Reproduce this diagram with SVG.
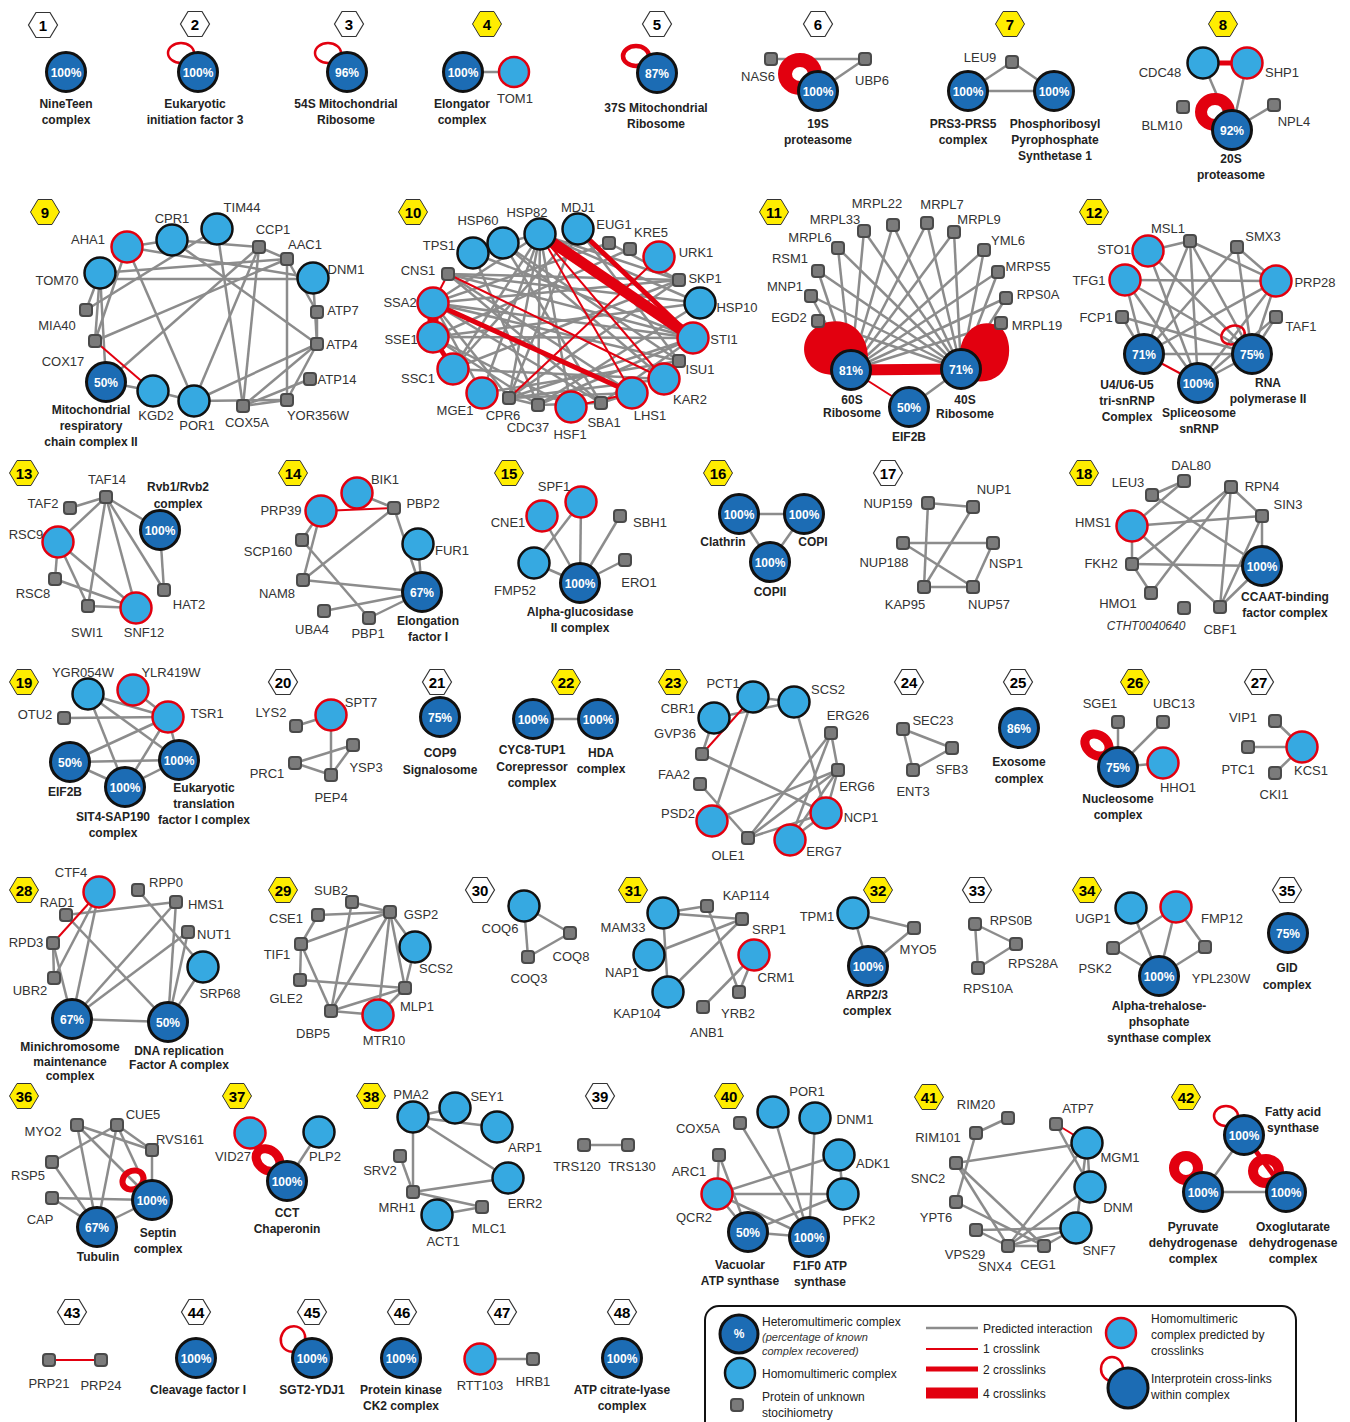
<svg xmlns="http://www.w3.org/2000/svg" xmlns:xlink="http://www.w3.org/1999/xlink" width="1350" height="1422" viewBox="0 0 1350 1422">
<style>
text{font-family:"Liberation Sans",Arial,sans-serif}
.t{font-size:13px;fill:#333;text-anchor:middle}
.ti{font-size:12px;fill:#333;text-anchor:middle;font-style:italic}
.b{font-size:12px;font-weight:bold;fill:#222;text-anchor:middle}
.p{font-size:12px;font-weight:bold;fill:#fff;text-anchor:middle}
.hn{font-size:15px;font-weight:bold;fill:#000;text-anchor:middle}
.lg{font-size:12px;fill:#222}
.lgi{font-size:11px;fill:#333;font-style:italic}
.ge{stroke:#8c8c8c;stroke-width:2.5;fill:none}
.r1{stroke:#e2000f;stroke-width:2;fill:none}
.r2{stroke:#e2000f;stroke-width:5;fill:none}
.r4{stroke:#e2000f;stroke-width:11;fill:none}
.lp{stroke:#e2000f;stroke-width:2.5;fill:none}
.rg{stroke:#e2000f;fill:none}
.bl{fill:#e2000f}
.H{fill:#1c6cb4;stroke:#111;stroke-width:3}
.L{fill:#36a9e1;stroke:#111;stroke-width:2.5}
.R{fill:#36a9e1;stroke:#e2000f;stroke-width:2.5}
.S{fill:#7b7b7b;stroke:#4a4a4a;stroke-width:2}
.hy{fill:#ffed00;stroke:#333;stroke-width:1}
.hw{fill:#fff;stroke:#333;stroke-width:1.2}
</style>
<defs>
<polygon id="hex" points="-14.5,0 -7,-12.5 7,-12.5 14.5,0 7,12.5 -7,12.5"/>
<rect id="sq" x="-6" y="-6" width="12" height="12" rx="3"/>
</defs>

<g id="badges">
<g id="b1"><use href="#hex" x="43" y="25" class="hw"/><text class="hn" x="43" y="30.5">1</text></g>
<g id="b2"><use href="#hex" x="195" y="24" class="hw"/><text class="hn" x="195" y="29.5">2</text></g>
<g id="b3"><use href="#hex" x="349" y="24" class="hw"/><text class="hn" x="349" y="29.5">3</text></g>
<g id="b4"><use href="#hex" x="487" y="24" class="hy"/><text class="hn" x="487" y="29.5">4</text></g>
<g id="b5"><use href="#hex" x="657" y="24" class="hw"/><text class="hn" x="657" y="29.5">5</text></g>
<g id="b6"><use href="#hex" x="818" y="24" class="hw"/><text class="hn" x="818" y="29.5">6</text></g>
<g id="b7"><use href="#hex" x="1010" y="24" class="hy"/><text class="hn" x="1010" y="29.5">7</text></g>
<g id="b8"><use href="#hex" x="1223" y="24" class="hy"/><text class="hn" x="1223" y="29.5">8</text></g>
<g id="b9"><use href="#hex" x="45" y="212" class="hy"/><text class="hn" x="45" y="217.5">9</text></g>
<g id="b10"><use href="#hex" x="413" y="212" class="hy"/><text class="hn" x="413" y="217.5">10</text></g>
<g id="b11"><use href="#hex" x="774" y="212" class="hy"/><text class="hn" x="774" y="217.5">11</text></g>
<g id="b12"><use href="#hex" x="1094" y="212" class="hy"/><text class="hn" x="1094" y="217.5">12</text></g>
<g id="b13"><use href="#hex" x="24" y="473" class="hy"/><text class="hn" x="24" y="478.5">13</text></g>
<g id="b14"><use href="#hex" x="293" y="473" class="hy"/><text class="hn" x="293" y="478.5">14</text></g>
<g id="b15"><use href="#hex" x="509" y="473" class="hy"/><text class="hn" x="509" y="478.5">15</text></g>
<g id="b16"><use href="#hex" x="718" y="473" class="hy"/><text class="hn" x="718" y="478.5">16</text></g>
<g id="b17"><use href="#hex" x="888" y="473" class="hw"/><text class="hn" x="888" y="478.5">17</text></g>
<g id="b18"><use href="#hex" x="1084" y="473" class="hy"/><text class="hn" x="1084" y="478.5">18</text></g>
<g id="b19"><use href="#hex" x="24" y="682" class="hy"/><text class="hn" x="24" y="687.5">19</text></g>
<g id="b20"><use href="#hex" x="283" y="682" class="hw"/><text class="hn" x="283" y="687.5">20</text></g>
<g id="b21"><use href="#hex" x="437" y="682" class="hw"/><text class="hn" x="437" y="687.5">21</text></g>
<g id="b22"><use href="#hex" x="566" y="682" class="hy"/><text class="hn" x="566" y="687.5">22</text></g>
<g id="b23"><use href="#hex" x="673" y="682" class="hy"/><text class="hn" x="673" y="687.5">23</text></g>
<g id="b24"><use href="#hex" x="909" y="682" class="hw"/><text class="hn" x="909" y="687.5">24</text></g>
<g id="b25"><use href="#hex" x="1018" y="682" class="hw"/><text class="hn" x="1018" y="687.5">25</text></g>
<g id="b26"><use href="#hex" x="1135" y="682" class="hy"/><text class="hn" x="1135" y="687.5">26</text></g>
<g id="b27"><use href="#hex" x="1259" y="682" class="hw"/><text class="hn" x="1259" y="687.5">27</text></g>
<g id="b28"><use href="#hex" x="24" y="890" class="hy"/><text class="hn" x="24" y="895.5">28</text></g>
<g id="b29"><use href="#hex" x="283" y="890" class="hy"/><text class="hn" x="283" y="895.5">29</text></g>
<g id="b30"><use href="#hex" x="480" y="890" class="hw"/><text class="hn" x="480" y="895.5">30</text></g>
<g id="b31"><use href="#hex" x="633" y="890" class="hy"/><text class="hn" x="633" y="895.5">31</text></g>
<g id="b32"><use href="#hex" x="878" y="890" class="hy"/><text class="hn" x="878" y="895.5">32</text></g>
<g id="b33"><use href="#hex" x="977" y="890" class="hw"/><text class="hn" x="977" y="895.5">33</text></g>
<g id="b34"><use href="#hex" x="1087" y="890" class="hy"/><text class="hn" x="1087" y="895.5">34</text></g>
<g id="b35"><use href="#hex" x="1287" y="890" class="hw"/><text class="hn" x="1287" y="895.5">35</text></g>
<g id="b36"><use href="#hex" x="24" y="1096" class="hy"/><text class="hn" x="24" y="1101.5">36</text></g>
<g id="b37"><use href="#hex" x="237" y="1096" class="hy"/><text class="hn" x="237" y="1101.5">37</text></g>
<g id="b38"><use href="#hex" x="371" y="1096" class="hy"/><text class="hn" x="371" y="1101.5">38</text></g>
<g id="b39"><use href="#hex" x="600" y="1096" class="hw"/><text class="hn" x="600" y="1101.5">39</text></g>
<g id="b40"><use href="#hex" x="729" y="1096" class="hy"/><text class="hn" x="729" y="1101.5">40</text></g>
<g id="b41"><use href="#hex" x="929" y="1097" class="hy"/><text class="hn" x="929" y="1102.5">41</text></g>
<g id="b42"><use href="#hex" x="1186" y="1097" class="hy"/><text class="hn" x="1186" y="1102.5">42</text></g>
<g id="b43"><use href="#hex" x="72" y="1312" class="hw"/><text class="hn" x="72" y="1317.5">43</text></g>
<g id="b44"><use href="#hex" x="196" y="1312" class="hw"/><text class="hn" x="196" y="1317.5">44</text></g>
<g id="b45"><use href="#hex" x="312" y="1312" class="hw"/><text class="hn" x="312" y="1317.5">45</text></g>
<g id="b46"><use href="#hex" x="402" y="1312" class="hw"/><text class="hn" x="402" y="1317.5">46</text></g>
<g id="b47"><use href="#hex" x="502" y="1312" class="hw"/><text class="hn" x="502" y="1317.5">47</text></g>
<g id="b48"><use href="#hex" x="622" y="1312" class="hw"/><text class="hn" x="622" y="1317.5">48</text></g>
</g>

<g id="connectors">
<g class="ge">
<line x1="463" y1="72" x2="514" y2="72"/>
<line x1="771" y1="59" x2="865" y2="59"/><line x1="865" y1="59" x2="818" y2="91"/>
<line x1="1012" y1="62" x2="968" y2="91"/><line x1="1012" y1="62" x2="1054" y2="91"/><line x1="968" y1="91" x2="1054" y2="91"/>
<line x1="1203" y1="63" x2="1232" y2="130"/><line x1="1247" y1="63" x2="1232" y2="130"/><line x1="1274" y1="105" x2="1232" y2="130"/>
<!-- 9 -->
<line x1="172" y1="240" x2="259" y2="247"/><line x1="127" y1="247" x2="172" y2="240"/><line x1="100" y1="279" x2="313" y2="279"/><line x1="100" y1="273" x2="287" y2="259"/><line x1="127" y1="247" x2="313" y2="278"/><line x1="172" y1="240" x2="317" y2="344"/><line x1="127" y1="247" x2="194" y2="401"/><line x1="127" y1="247" x2="95" y2="341"/><line x1="100" y1="273" x2="95" y2="341"/><line x1="100" y1="273" x2="86" y2="310"/><line x1="100" y1="273" x2="106" y2="382"/><line x1="217" y1="229" x2="86" y2="310"/><line x1="217" y1="229" x2="243" y2="406"/><line x1="259" y1="247" x2="194" y2="401"/><line x1="259" y1="247" x2="243" y2="406"/><line x1="259" y1="247" x2="287" y2="259"/><line x1="287" y1="259" x2="287" y2="400"/><line x1="287" y1="259" x2="95" y2="341"/><line x1="106" y1="382" x2="259" y2="247"/><line x1="313" y1="278" x2="317" y2="344"/><line x1="287" y1="259" x2="317" y2="312"/><line x1="317" y1="312" x2="317" y2="344"/><line x1="317" y1="344" x2="243" y2="406"/><line x1="317" y1="344" x2="194" y2="401"/><line x1="317" y1="344" x2="287" y2="400"/><line x1="310" y1="379" x2="243" y2="406"/><line x1="287" y1="400" x2="243" y2="406"/><line x1="287" y1="400" x2="194" y2="401"/><line x1="153" y1="391" x2="194" y2="401"/><line x1="106" y1="382" x2="153" y2="391"/>
<!-- 10 -->
<line x1="448" y1="274" x2="679" y2="280"/><line x1="448" y1="274" x2="700" y2="303"/><line x1="448" y1="274" x2="693" y2="338"/><line x1="473" y1="253" x2="538" y2="405"/><line x1="473" y1="253" x2="693" y2="338"/><line x1="503" y1="243" x2="601" y2="403"/><line x1="503" y1="243" x2="679" y2="361"/><line x1="540" y1="234" x2="679" y2="280"/><line x1="540" y1="234" x2="700" y2="303"/><line x1="540" y1="234" x2="509" y2="398"/><line x1="540" y1="234" x2="538" y2="405"/><line x1="540" y1="234" x2="482" y2="393"/><line x1="540" y1="234" x2="453" y2="369"/><line x1="540" y1="234" x2="433" y2="303"/><line x1="540" y1="234" x2="571" y2="407"/><line x1="578" y1="229" x2="453" y2="369"/><line x1="578" y1="229" x2="509" y2="398"/><line x1="609" y1="243" x2="433" y2="303"/><line x1="630" y1="249" x2="433" y2="337"/><line x1="679" y1="280" x2="433" y2="303"/><line x1="679" y1="280" x2="509" y2="398"/><line x1="700" y1="303" x2="433" y2="337"/><line x1="700" y1="303" x2="538" y2="405"/><line x1="693" y1="338" x2="433" y2="303"/><line x1="693" y1="338" x2="433" y2="337"/><line x1="693" y1="338" x2="509" y2="398"/><line x1="693" y1="338" x2="538" y2="405"/><line x1="693" y1="338" x2="601" y2="403"/><line x1="679" y1="361" x2="433" y2="303"/><line x1="679" y1="361" x2="482" y2="393"/><line x1="664" y1="379" x2="453" y2="369"/><line x1="664" y1="379" x2="509" y2="398"/><line x1="632" y1="393" x2="448" y2="274"/><line x1="632" y1="393" x2="509" y2="398"/><line x1="601" y1="403" x2="433" y2="303"/><line x1="601" y1="403" x2="538" y2="405"/><line x1="571" y1="407" x2="433" y2="337"/><line x1="538" y1="405" x2="433" y2="337"/><line x1="509" y1="398" x2="433" y2="303"/><line x1="482" y1="393" x2="433" y2="303"/><line x1="453" y1="369" x2="679" y2="280"/><line x1="473" y1="253" x2="503" y2="243"/><line x1="503" y1="243" x2="540" y2="234"/><line x1="538" y1="405" x2="509" y2="398"/><line x1="601" y1="403" x2="632" y2="393"/><line x1="609" y1="243" x2="679" y2="280"/><line x1="578" y1="229" x2="679" y2="361"/><line x1="503" y1="243" x2="664" y2="379"/><line x1="448" y1="274" x2="601" y2="403"/>
<!-- 11 -->
<line x1="838" y1="248" x2="851" y2="370"/><line x1="838" y1="248" x2="961" y2="369"/><line x1="864" y1="231" x2="851" y2="370"/><line x1="864" y1="231" x2="961" y2="369"/><line x1="893" y1="225" x2="851" y2="370"/><line x1="893" y1="225" x2="961" y2="369"/><line x1="927" y1="223" x2="851" y2="370"/><line x1="927" y1="223" x2="961" y2="369"/><line x1="954" y1="232" x2="851" y2="370"/><line x1="954" y1="232" x2="961" y2="369"/><line x1="984" y1="250" x2="851" y2="370"/><line x1="984" y1="250" x2="961" y2="369"/><line x1="998" y1="272" x2="851" y2="370"/><line x1="998" y1="272" x2="961" y2="369"/><line x1="1006" y1="298" x2="851" y2="370"/><line x1="1006" y1="298" x2="961" y2="369"/><line x1="1001" y1="323" x2="851" y2="370"/><line x1="1001" y1="323" x2="961" y2="369"/><line x1="818" y1="271" x2="851" y2="370"/><line x1="818" y1="271" x2="961" y2="369"/><line x1="811" y1="296" x2="851" y2="370"/><line x1="811" y1="296" x2="961" y2="369"/><line x1="818" y1="321" x2="851" y2="370"/><line x1="818" y1="321" x2="961" y2="369"/><line x1="961" y1="369" x2="909" y2="407"/>
<!-- 12 -->
<line x1="1148" y1="251" x2="1190" y2="241"/><line x1="1190" y1="241" x2="1144" y2="354"/><line x1="1190" y1="241" x2="1198" y2="383"/><line x1="1190" y1="241" x2="1252" y2="354"/><line x1="1190" y1="241" x2="1276" y2="281"/><line x1="1237" y1="247" x2="1276" y2="281"/><line x1="1237" y1="247" x2="1144" y2="354"/><line x1="1237" y1="247" x2="1252" y2="354"/><line x1="1148" y1="251" x2="1198" y2="383"/><line x1="1148" y1="251" x2="1252" y2="354"/><line x1="1125" y1="280" x2="1276" y2="281"/><line x1="1125" y1="280" x2="1144" y2="354"/><line x1="1125" y1="280" x2="1252" y2="354"/><line x1="1125" y1="280" x2="1198" y2="383"/><line x1="1122" y1="317" x2="1252" y2="354"/><line x1="1122" y1="317" x2="1144" y2="354"/><line x1="1276" y1="281" x2="1144" y2="354"/><line x1="1276" y1="281" x2="1198" y2="383"/><line x1="1276" y1="281" x2="1252" y2="354"/><line x1="1276" y1="317" x2="1252" y2="354"/><line x1="1276" y1="317" x2="1198" y2="383"/><line x1="1144" y1="354" x2="1252" y2="354"/><line x1="1198" y1="383" x2="1252" y2="354"/>
<!-- 13 -->
<line x1="106" y1="497" x2="70" y2="508"/><line x1="106" y1="497" x2="58" y2="542"/><line x1="106" y1="497" x2="88" y2="606"/><line x1="106" y1="497" x2="136" y2="608"/><line x1="106" y1="497" x2="164" y2="590"/><line x1="106" y1="497" x2="160" y2="530"/><line x1="160" y1="530" x2="164" y2="590"/><line x1="58" y1="542" x2="55" y2="579"/><line x1="58" y1="542" x2="88" y2="606"/><line x1="58" y1="542" x2="136" y2="608"/><line x1="55" y1="579" x2="136" y2="608"/><line x1="88" y1="606" x2="136" y2="608"/>
<!-- 14 -->
<line x1="357" y1="493" x2="394" y2="508"/><line x1="394" y1="508" x2="422" y2="592"/><line x1="394" y1="508" x2="303" y2="580"/><line x1="418" y1="544" x2="422" y2="592"/><line x1="321" y1="511" x2="302" y2="540"/><line x1="321" y1="511" x2="303" y2="580"/><line x1="302" y1="540" x2="369" y2="618"/><line x1="303" y1="580" x2="422" y2="592"/><line x1="324" y1="611" x2="422" y2="592"/><line x1="369" y1="618" x2="422" y2="592"/>
<!-- 15 -->
<line x1="542" y1="516" x2="580" y2="583"/><line x1="581" y1="502" x2="580" y2="583"/><line x1="581" y1="502" x2="534" y2="563"/><line x1="534" y1="563" x2="580" y2="583"/><line x1="620" y1="516" x2="580" y2="583"/><line x1="625" y1="560" x2="580" y2="583"/>
<!-- 16 -->
<line x1="739" y1="514" x2="804" y2="514"/><line x1="739" y1="514" x2="770" y2="562"/><line x1="804" y1="514" x2="770" y2="562"/>
<!-- 17 -->
<line x1="928" y1="503" x2="973" y2="507"/><line x1="928" y1="503" x2="924" y2="587"/><line x1="973" y1="507" x2="924" y2="587"/><line x1="903" y1="543" x2="993" y2="543"/><line x1="903" y1="543" x2="973" y2="587"/><line x1="993" y1="543" x2="973" y2="587"/><line x1="924" y1="587" x2="973" y2="587"/>
<!-- 18 -->
<line x1="1152" y1="495" x2="1184" y2="481"/><line x1="1132" y1="526" x2="1184" y2="481"/><line x1="1152" y1="495" x2="1262" y2="566"/><line x1="1132" y1="526" x2="1262" y2="516"/><line x1="1132" y1="526" x2="1220" y2="607"/><line x1="1132" y1="526" x2="1132" y2="564"/><line x1="1132" y1="564" x2="1231" y2="487"/><line x1="1132" y1="564" x2="1262" y2="566"/><line x1="1132" y1="564" x2="1151" y2="593"/><line x1="1151" y1="593" x2="1231" y2="487"/><line x1="1231" y1="487" x2="1262" y2="516"/><line x1="1231" y1="487" x2="1220" y2="607"/><line x1="1262" y1="516" x2="1262" y2="566"/><line x1="1262" y1="516" x2="1220" y2="607"/><line x1="1262" y1="566" x2="1220" y2="607"/>
<!-- 19 -->
<line x1="64" y1="718" x2="168" y2="717"/><line x1="88" y1="694" x2="168" y2="717"/><line x1="133" y1="690" x2="168" y2="717"/><line x1="88" y1="694" x2="125" y2="787"/><line x1="88" y1="694" x2="179" y2="760"/><line x1="168" y1="717" x2="70" y2="762"/><line x1="168" y1="717" x2="125" y2="787"/><line x1="168" y1="717" x2="179" y2="760"/><line x1="70" y1="762" x2="179" y2="760"/><line x1="70" y1="762" x2="125" y2="787"/><line x1="125" y1="787" x2="179" y2="760"/>
<!-- 20 -->
<line x1="296" y1="726" x2="331" y2="715"/><line x1="331" y1="715" x2="331" y2="775"/><line x1="295" y1="763" x2="353" y2="745"/><line x1="295" y1="763" x2="331" y2="775"/><line x1="353" y1="745" x2="331" y2="775"/>
<line x1="533" y1="719" x2="598" y2="719"/>
<!-- 23 -->
<line x1="753" y1="697" x2="794" y2="702"/><line x1="714" y1="718" x2="794" y2="702"/><line x1="714" y1="718" x2="702" y2="754"/><line x1="753" y1="697" x2="712" y2="821"/><line x1="794" y1="702" x2="826" y2="813"/><line x1="702" y1="754" x2="826" y2="813"/><line x1="831" y1="733" x2="838" y2="770"/><line x1="831" y1="733" x2="748" y2="838"/><line x1="831" y1="733" x2="790" y2="840"/><line x1="838" y1="770" x2="712" y2="821"/><line x1="838" y1="770" x2="748" y2="838"/><line x1="838" y1="770" x2="790" y2="840"/><line x1="838" y1="770" x2="826" y2="813"/><line x1="700" y1="784" x2="748" y2="838"/><line x1="748" y1="838" x2="826" y2="813"/><line x1="790" y1="840" x2="826" y2="813"/>
<!-- 24 -->
<line x1="903" y1="729" x2="952" y2="748"/><line x1="903" y1="729" x2="913" y2="770"/><line x1="913" y1="770" x2="952" y2="748"/>
<!-- 26,27 -->
<line x1="1118" y1="722" x2="1118" y2="767"/><line x1="1163" y1="722" x2="1118" y2="767"/><line x1="1163" y1="763" x2="1118" y2="767"/>
<line x1="1275" y1="721" x2="1302" y2="747"/><line x1="1248" y1="747" x2="1302" y2="747"/><line x1="1275" y1="773" x2="1302" y2="747"/>
<!-- 28 -->
<line x1="99" y1="892" x2="72" y2="1019"/><line x1="99" y1="892" x2="54" y2="978"/><line x1="66" y1="915" x2="176" y2="902"/><line x1="66" y1="915" x2="168" y2="1022"/><line x1="138" y1="890" x2="203" y2="967"/><line x1="53" y1="943" x2="54" y2="978"/><line x1="53" y1="943" x2="72" y2="1019"/><line x1="72" y1="1019" x2="176" y2="902"/><line x1="72" y1="1019" x2="188" y2="932"/><line x1="72" y1="1019" x2="168" y2="1022"/><line x1="168" y1="1022" x2="176" y2="902"/><line x1="168" y1="1022" x2="188" y2="932"/><line x1="168" y1="1022" x2="203" y2="967"/>
<!-- 29 -->
<line x1="352" y1="902" x2="390" y2="912"/><line x1="318" y1="915" x2="390" y2="912"/><line x1="318" y1="915" x2="301" y2="944"/><line x1="301" y1="944" x2="390" y2="912"/><line x1="301" y1="944" x2="300" y2="980"/><line x1="301" y1="944" x2="331" y2="1011"/><line x1="352" y1="902" x2="331" y2="1011"/><line x1="390" y1="912" x2="415" y2="947"/><line x1="390" y1="912" x2="331" y2="1011"/><line x1="390" y1="912" x2="378" y2="1015"/><line x1="390" y1="912" x2="405" y2="988"/><line x1="300" y1="980" x2="405" y2="988"/><line x1="415" y1="947" x2="405" y2="988"/><line x1="405" y1="988" x2="331" y2="1011"/><line x1="405" y1="988" x2="378" y2="1015"/><line x1="331" y1="1011" x2="378" y2="1015"/>
<!-- 30,31,32,33,34 -->
<line x1="524" y1="906" x2="570" y2="933"/><line x1="524" y1="906" x2="528" y2="957"/><line x1="528" y1="957" x2="570" y2="933"/>
<line x1="663" y1="913" x2="707" y2="906"/><line x1="663" y1="913" x2="742" y2="919"/><line x1="663" y1="913" x2="668" y2="992"/><line x1="649" y1="955" x2="742" y2="919"/><line x1="668" y1="992" x2="742" y2="919"/><line x1="707" y1="906" x2="739" y2="992"/><line x1="754" y1="955" x2="739" y2="992"/><line x1="754" y1="955" x2="703" y2="1007"/>
<line x1="853" y1="913" x2="868" y2="966"/><line x1="853" y1="913" x2="914" y2="928"/><line x1="868" y1="966" x2="914" y2="928"/>
<line x1="975" y1="924" x2="1016" y2="944"/><line x1="975" y1="924" x2="978" y2="968"/><line x1="978" y1="968" x2="1016" y2="944"/>
<line x1="1131" y1="908" x2="1159" y2="976"/><line x1="1176" y1="907" x2="1113" y2="948"/><line x1="1176" y1="907" x2="1159" y2="976"/><line x1="1176" y1="907" x2="1205" y2="947"/><line x1="1113" y1="948" x2="1159" y2="976"/><line x1="1205" y1="947" x2="1159" y2="976"/>
<!-- 36 -->
<line x1="77" y1="1125" x2="152" y2="1150"/><line x1="77" y1="1125" x2="97" y2="1227"/><line x1="77" y1="1125" x2="152" y2="1200"/><line x1="117" y1="1125" x2="52" y2="1162"/><line x1="117" y1="1125" x2="97" y2="1227"/><line x1="117" y1="1125" x2="152" y2="1150"/><line x1="117" y1="1125" x2="152" y2="1200"/><line x1="152" y1="1150" x2="152" y2="1200"/><line x1="52" y1="1162" x2="97" y2="1227"/><line x1="52" y1="1198" x2="152" y2="1200"/><line x1="52" y1="1198" x2="97" y2="1227"/><line x1="97" y1="1227" x2="152" y2="1200"/>
<line x1="319" y1="1132" x2="287" y2="1181"/>
<!-- 38 -->
<line x1="413" y1="1117" x2="455" y2="1108"/><line x1="413" y1="1117" x2="497" y2="1127"/><line x1="413" y1="1117" x2="413" y2="1192"/><line x1="413" y1="1117" x2="508" y2="1178"/><line x1="400" y1="1156" x2="413" y2="1192"/><line x1="413" y1="1192" x2="508" y2="1178"/><line x1="413" y1="1192" x2="482" y2="1207"/><line x1="437" y1="1215" x2="482" y2="1207"/>
<line x1="584" y1="1145" x2="628" y2="1145"/>
<!-- 40 -->
<line x1="740" y1="1123" x2="809" y2="1237"/><line x1="773" y1="1112" x2="809" y2="1237"/><line x1="815" y1="1118" x2="809" y2="1237"/><line x1="719" y1="1155" x2="717" y2="1194"/><line x1="719" y1="1155" x2="748" y2="1232"/><line x1="839" y1="1155" x2="717" y2="1194"/><line x1="717" y1="1194" x2="843" y2="1194"/><line x1="717" y1="1194" x2="809" y2="1237"/><line x1="717" y1="1194" x2="748" y2="1232"/><line x1="843" y1="1194" x2="748" y2="1232"/><line x1="748" y1="1232" x2="809" y2="1237"/><line x1="839" y1="1155" x2="843" y2="1194"/>
<!-- 41 -->
<line x1="1056" y1="1124" x2="1090" y2="1187"/><line x1="1008" y1="1118" x2="976" y2="1133"/><line x1="976" y1="1133" x2="956" y2="1202"/><line x1="956" y1="1163" x2="1087" y2="1143"/><line x1="956" y1="1163" x2="1008" y2="1246"/><line x1="956" y1="1163" x2="1044" y2="1246"/><line x1="956" y1="1202" x2="1044" y2="1246"/><line x1="1087" y1="1143" x2="1090" y2="1187"/><line x1="1087" y1="1143" x2="1076" y2="1228"/><line x1="1087" y1="1143" x2="1008" y2="1246"/><line x1="1090" y1="1187" x2="1008" y2="1246"/><line x1="1076" y1="1228" x2="976" y2="1230"/><line x1="1076" y1="1228" x2="1008" y2="1246"/><line x1="976" y1="1230" x2="1008" y2="1246"/><line x1="1008" y1="1246" x2="1044" y2="1246"/><line x1="1044" y1="1246" x2="1076" y2="1228"/>
<!-- 42 -->
<line x1="1244" y1="1135" x2="1203" y2="1192"/><line x1="1203" y1="1192" x2="1286" y2="1192"/>
<line x1="480" y1="1359" x2="533" y2="1359"/>
</g>
<g class="r1">
<line x1="95" y1="341" x2="153" y2="391"/>
<line x1="540" y1="234" x2="632" y2="393"/><line x1="540" y1="234" x2="664" y2="379"/><line x1="659" y1="257" x2="509" y2="398"/><line x1="448" y1="274" x2="664" y2="379"/><line x1="448" y1="274" x2="433" y2="303"/><line x1="571" y1="407" x2="632" y2="393"/>
<line x1="851" y1="370" x2="909" y2="407"/>
<line x1="1144" y1="354" x2="1198" y2="383"/>
<line x1="321" y1="511" x2="394" y2="508"/>
<line x1="753" y1="697" x2="702" y2="754"/>
<line x1="99" y1="892" x2="53" y2="943"/>
<line x1="1056" y1="1124" x2="1087" y2="1143"/>
<line x1="49" y1="1360" x2="101" y2="1360"/>
</g>
<g class="r2">
<line x1="1203" y1="63" x2="1247" y2="63"/>
<line x1="578" y1="229" x2="693" y2="338"/><line x1="433" y1="303" x2="632" y2="393"/><line x1="433" y1="337" x2="453" y2="369"/>
<line x1="1244" y1="1135" x2="1286" y2="1192"/>
</g>
<g class="r4">
<line x1="540" y1="234" x2="693" y2="338"/><line x1="433" y1="303" x2="433" y2="337"/>
<line x1="851" y1="370" x2="961" y2="369"/>
</g>
<g id="selfloops">
<ellipse class="lp" cx="181" cy="53" rx="13" ry="10"/>
<ellipse class="lp" cx="328" cy="53" rx="13" ry="10"/>
<ellipse class="rg" stroke-width="4.5" cx="636" cy="56" rx="13" ry="10"/>
<ellipse class="rg" stroke-width="14" cx="800" cy="74" rx="15" ry="14"/>
<ellipse class="rg" stroke-width="12" cx="1215" cy="112" rx="14" ry="13"/>
<path class="bl" d="M851,372 C800,388 788,332 828,322 C858,316 874,345 866,372 Z"/>
<path class="bl" d="M961,372 C952,332 982,314 1001,328 C1016,342 1012,386 975,381 Z"/>
<ellipse class="lp" stroke-width="3" cx="1233" cy="335" rx="12" ry="9" transform="rotate(-20 1233 335)"/>
<ellipse class="rg" stroke-width="9" cx="1097" cy="745" rx="13" ry="10" transform="rotate(35 1097 745)"/>
<ellipse class="rg" stroke-width="6" cx="133" cy="1180" rx="11" ry="9" transform="rotate(-30 133 1180)"/>
<ellipse class="rg" stroke-width="9" cx="268" cy="1160" rx="13" ry="10" transform="rotate(40 268 1160)"/>
<ellipse class="lp" stroke-width="3" cx="1226" cy="1116" rx="12" ry="10"/>
<ellipse class="rg" stroke-width="10" cx="1186" cy="1168" rx="12" ry="12"/>
<ellipse class="rg" stroke-width="10" cx="1266" cy="1171" rx="13" ry="12"/>
<ellipse class="lp" cx="293" cy="1339" rx="12" ry="13" transform="rotate(30 293 1339)"/>
</g>
</g>

<g id="nodes">
<!-- 1-8 -->
<g id="c1"><circle class="H" cx="66" cy="72" r="19.5"/><text class="p" x="66" y="76.5">100%</text><text class="b" x="66" y="108">NineTeen</text><text class="b" x="66" y="124">complex</text></g>
<g id="c2"><circle class="H" cx="198" cy="72" r="19.5"/><text class="p" x="198" y="76.5">100%</text><text class="b" x="195" y="108">Eukaryotic</text><text class="b" x="195" y="124">initiation factor 3</text></g>
<g id="c3"><circle class="H" cx="347" cy="72" r="19.5"/><text class="p" x="347" y="76.5">96%</text><text class="b" x="346" y="108">54S Mitochondrial</text><text class="b" x="346" y="124">Ribosome</text></g>
<g id="c4"><circle class="H" cx="463" cy="72" r="19.5"/><text class="p" x="463" y="76.5">100%</text><text class="b" x="462" y="108">Elongator</text><text class="b" x="462" y="124">complex</text></g>
<g id="n-TOM1"><circle class="R" cx="514" cy="72" r="15"/><text class="t" x="515" y="103">TOM1</text></g>
<g id="c5"><circle class="H" cx="657" cy="73" r="19.5"/><text class="p" x="657" y="77.5">87%</text><text class="b" x="656" y="112">37S Mitochondrial</text><text class="b" x="656" y="128">Ribosome</text></g>
<g id="n-NAS6"><use href="#sq" x="771" y="59" class="S"/><text class="t" x="758" y="81">NAS6</text></g>
<g id="n-UBP6"><use href="#sq" x="865" y="59" class="S"/><text class="t" x="872" y="85">UBP6</text></g>
<g id="c6"><circle class="H" cx="818" cy="91" r="19.5"/><text class="p" x="818" y="95.5">100%</text><text class="b" x="818" y="128">19S</text><text class="b" x="818" y="144">proteasome</text></g>
<g id="n-LEU9"><use href="#sq" x="1012" y="62" class="S"/><text class="t" x="980" y="62">LEU9</text></g>
<g id="c7a"><circle class="H" cx="968" cy="91" r="19.5"/><text class="p" x="968" y="95.5">100%</text><text class="b" x="963" y="128">PRS3-PRS5</text><text class="b" x="963" y="144">complex</text></g>
<g id="c7b"><circle class="H" cx="1054" cy="91" r="19.5"/><text class="p" x="1054" y="95.5">100%</text><text class="b" x="1055" y="128">Phosphoribosyl</text><text class="b" x="1055" y="144">Pyrophosphate</text><text class="b" x="1055" y="160">Synthetase 1</text></g>
<g id="n-CDC48"><circle class="L" cx="1203" cy="63" r="15.5"/><text class="t" x="1160" y="77">CDC48</text></g>
<g id="n-SHP1"><circle class="R" cx="1247" cy="63" r="15.5"/><text class="t" x="1282" y="77">SHP1</text></g>
<g id="n-BLM10"><use href="#sq" x="1183" y="107" class="S"/><text class="t" x="1162" y="130">BLM10</text></g>
<g id="n-NPL4"><use href="#sq" x="1274" y="105" class="S"/><text class="t" x="1294" y="126">NPL4</text></g>
<g id="c8"><circle class="H" cx="1232" cy="130" r="19.5"/><text class="p" x="1232" y="134.5">92%</text><text class="b" x="1231" y="163">20S</text><text class="b" x="1231" y="179">proteasome</text></g>

<!-- 9 -->
<g id="n9-AHA1"><circle class="R" cx="127" cy="247" r="15.5"/><text class="t" x="88" y="244">AHA1</text></g>
<g id="n9-CPR1"><circle class="L" cx="172" cy="240" r="15.5"/><text class="t" x="172" y="223">CPR1</text></g>
<g id="n9-TIM44"><circle class="L" cx="217" cy="229" r="15.5"/><text class="t" x="242" y="212">TIM44</text></g>
<g id="n9-CCP1"><use href="#sq" x="259" y="247" class="S"/><text class="t" x="273" y="234">CCP1</text></g>
<g id="n9-AAC1"><use href="#sq" x="287" y="259" class="S"/><text class="t" x="305" y="249">AAC1</text></g>
<g id="n9-DNM1"><circle class="L" cx="313" cy="278" r="15.5"/><text class="t" x="346" y="274">DNM1</text></g>
<g id="n9-ATP7"><use href="#sq" x="317" y="312" class="S"/><text class="t" x="343" y="315">ATP7</text></g>
<g id="n9-ATP4"><use href="#sq" x="317" y="344" class="S"/><text class="t" x="342" y="349">ATP4</text></g>
<g id="n9-ATP14"><use href="#sq" x="310" y="379" class="S"/><text class="t" x="337" y="384">ATP14</text></g>
<g id="n9-YOR356W"><use href="#sq" x="287" y="400" class="S"/><text class="t" x="318" y="420">YOR356W</text></g>
<g id="n9-COX5A"><use href="#sq" x="243" y="406" class="S"/><text class="t" x="247" y="427">COX5A</text></g>
<g id="n9-POR1"><circle class="L" cx="194" cy="401" r="15.5"/><text class="t" x="197" y="430">POR1</text></g>
<g id="n9-KGD2"><circle class="L" cx="153" cy="391" r="15.5"/><text class="t" x="156" y="420">KGD2</text></g>
<g id="n9-COX17"><use href="#sq" x="95" y="341" class="S"/><text class="t" x="63" y="366">COX17</text></g>
<g id="n9-MIA40"><use href="#sq" x="86" y="310" class="S"/><text class="t" x="57" y="330">MIA40</text></g>
<g id="n9-TOM70"><circle class="L" cx="100" cy="273" r="15.5"/><text class="t" x="57" y="285">TOM70</text></g>
<g id="c9"><circle class="H" cx="106" cy="382" r="19.5"/><text class="p" x="106" y="386.5">50%</text><text class="b" x="91" y="414">Mitochondrial</text><text class="b" x="91" y="430">respiratory</text><text class="b" x="91" y="446">chain complex II</text></g>

<!-- 10 -->
<g id="n10-TPS1"><circle class="L" cx="473" cy="253" r="15.5"/><text class="t" x="439" y="250">TPS1</text></g>
<g id="n10-HSP60"><circle class="L" cx="503" cy="243" r="15.5"/><text class="t" x="478" y="225">HSP60</text></g>
<g id="n10-HSP82"><circle class="L" cx="540" cy="234" r="15.5"/><text class="t" x="527" y="217">HSP82</text></g>
<g id="n10-MDJ1"><circle class="L" cx="578" cy="229" r="15.5"/><text class="t" x="578" y="212">MDJ1</text></g>
<g id="n10-EUG1"><use href="#sq" x="609" y="243" class="S"/><text class="t" x="614" y="229">EUG1</text></g>
<g id="n10-KRE5"><use href="#sq" x="630" y="249" class="S"/><text class="t" x="651" y="237">KRE5</text></g>
<g id="n10-URK1"><circle class="R" cx="659" cy="257" r="15.5"/><text class="t" x="696" y="257">URK1</text></g>
<g id="n10-SKP1"><use href="#sq" x="679" y="280" class="S"/><text class="t" x="705" y="283">SKP1</text></g>
<g id="n10-HSP10"><circle class="L" cx="700" cy="303" r="15.5"/><text class="t" x="737" y="312">HSP10</text></g>
<g id="n10-STI1"><circle class="R" cx="693" cy="338" r="15.5"/><text class="t" x="724" y="344">STI1</text></g>
<g id="n10-ISU1"><use href="#sq" x="679" y="361" class="S"/><text class="t" x="700" y="374">ISU1</text></g>
<g id="n10-KAR2"><circle class="R" cx="664" cy="379" r="15.5"/><text class="t" x="690" y="404">KAR2</text></g>
<g id="n10-LHS1"><circle class="R" cx="632" cy="393" r="15.5"/><text class="t" x="650" y="420">LHS1</text></g>
<g id="n10-SBA1"><use href="#sq" x="601" y="403" class="S"/><text class="t" x="604" y="427">SBA1</text></g>
<g id="n10-HSF1"><circle class="R" cx="571" cy="407" r="15.5"/><text class="t" x="570" y="439">HSF1</text></g>
<g id="n10-CDC37"><use href="#sq" x="538" y="405" class="S"/><text class="t" x="528" y="432">CDC37</text></g>
<g id="n10-CPR6"><use href="#sq" x="509" y="398" class="S"/><text class="t" x="503" y="420">CPR6</text></g>
<g id="n10-MGE1"><circle class="R" cx="482" cy="393" r="15.5"/><text class="t" x="455" y="415">MGE1</text></g>
<g id="n10-SSC1"><circle class="R" cx="453" cy="369" r="15.5"/><text class="t" x="418" y="383">SSC1</text></g>
<g id="n10-SSE1"><circle class="R" cx="433" cy="337" r="15.5"/><text class="t" x="401" y="344">SSE1</text></g>
<g id="n10-SSA2"><circle class="R" cx="433" cy="303" r="15.5"/><text class="t" x="400" y="307">SSA2</text></g>
<g id="n10-CNS1"><use href="#sq" x="448" y="274" class="S"/><text class="t" x="418" y="275">CNS1</text></g>

<!-- 11 -->
<g id="n11-MRPL6"><use href="#sq" x="838" y="248" class="S"/><text class="t" x="810" y="242">MRPL6</text></g>
<g id="n11-MRPL33"><use href="#sq" x="864" y="231" class="S"/><text class="t" x="835" y="224">MRPL33</text></g>
<g id="n11-MRPL22"><use href="#sq" x="893" y="225" class="S"/><text class="t" x="877" y="208">MRPL22</text></g>
<g id="n11-MRPL7"><use href="#sq" x="927" y="223" class="S"/><text class="t" x="942" y="209">MRPL7</text></g>
<g id="n11-MRPL9"><use href="#sq" x="954" y="232" class="S"/><text class="t" x="979" y="224">MRPL9</text></g>
<g id="n11-YML6"><use href="#sq" x="984" y="250" class="S"/><text class="t" x="1008" y="245">YML6</text></g>
<g id="n11-MRPS5"><use href="#sq" x="998" y="272" class="S"/><text class="t" x="1028" y="271">MRPS5</text></g>
<g id="n11-RPS0A"><use href="#sq" x="1006" y="298" class="S"/><text class="t" x="1038" y="299">RPS0A</text></g>
<g id="n11-MRPL19"><use href="#sq" x="1001" y="323" class="S"/><text class="t" x="1037" y="330">MRPL19</text></g>
<g id="n11-RSM1"><use href="#sq" x="818" y="271" class="S"/><text class="t" x="790" y="263">RSM1</text></g>
<g id="n11-MNP1"><use href="#sq" x="811" y="296" class="S"/><text class="t" x="785" y="291">MNP1</text></g>
<g id="n11-EGD2"><use href="#sq" x="818" y="321" class="S"/><text class="t" x="789" y="322">EGD2</text></g>
<g id="c11-60S"><circle class="H" cx="851" cy="370" r="19.5"/><text class="p" x="851" y="374.5">81%</text><text class="b" x="852" y="404">60S</text><text class="b" x="852" y="417">Ribosome</text></g>
<g id="c11-40S"><circle class="H" cx="961" cy="369" r="19.5"/><text class="p" x="961" y="373.5">71%</text><text class="b" x="965" y="404">40S</text><text class="b" x="965" y="418">Ribosome</text></g>
<g id="c11-EIF2B"><circle class="H" cx="909" cy="407" r="19.5"/><text class="p" x="909" y="411.5">50%</text><text class="b" x="909" y="441">EIF2B</text></g>

<!-- 12 -->
<g id="n12-STO1"><circle class="R" cx="1148" cy="251" r="15.5"/><text class="t" x="1114" y="254">STO1</text></g>
<g id="n12-MSL1"><use href="#sq" x="1190" y="241" class="S"/><text class="t" x="1168" y="233">MSL1</text></g>
<g id="n12-SMX3"><use href="#sq" x="1237" y="247" class="S"/><text class="t" x="1263" y="241">SMX3</text></g>
<g id="n12-PRP28"><circle class="R" cx="1276" cy="281" r="15.5"/><text class="t" x="1315" y="287">PRP28</text></g>
<g id="n12-TFG1"><circle class="R" cx="1125" cy="280" r="15.5"/><text class="t" x="1089" y="285">TFG1</text></g>
<g id="n12-FCP1"><use href="#sq" x="1122" y="317" class="S"/><text class="t" x="1096" y="322">FCP1</text></g>
<g id="n12-TAF1"><use href="#sq" x="1276" y="317" class="S"/><text class="t" x="1301" y="331">TAF1</text></g>
<g id="c12-U4"><circle class="H" cx="1144" cy="354" r="19.5"/><text class="p" x="1144" y="358.5">71%</text><text class="b" x="1127" y="389">U4/U6-U5</text><text class="b" x="1127" y="405">tri-snRNP</text><text class="b" x="1127" y="421">Complex</text></g>
<g id="c12-Spl"><circle class="H" cx="1198" cy="383" r="19.5"/><text class="p" x="1198" y="387.5">100%</text><text class="b" x="1199" y="417">Spliceosome</text><text class="b" x="1199" y="433">snRNP</text></g>
<g id="c12-Pol"><circle class="H" cx="1252" cy="354" r="19.5"/><text class="p" x="1252" y="358.5">75%</text><text class="b" x="1268" y="387">RNA</text><text class="b" x="1268" y="403">polymerase II</text></g>

<!-- 13 -->
<g id="n13-TAF14"><use href="#sq" x="106" y="497" class="S"/><text class="t" x="107" y="484">TAF14</text></g>
<g id="n13-TAF2"><use href="#sq" x="70" y="508" class="S"/><text class="t" x="43" y="508">TAF2</text></g>
<g id="n13-RSC9"><circle class="R" cx="58" cy="542" r="15.5"/><text class="t" x="26" y="539">RSC9</text></g>
<g id="n13-RSC8"><use href="#sq" x="55" y="579" class="S"/><text class="t" x="33" y="598">RSC8</text></g>
<g id="n13-SWI1"><use href="#sq" x="88" y="606" class="S"/><text class="t" x="87" y="637">SWI1</text></g>
<g id="n13-SNF12"><circle class="R" cx="136" cy="608" r="15.5"/><text class="t" x="144" y="637">SNF12</text></g>
<g id="n13-HAT2"><use href="#sq" x="164" y="590" class="S"/><text class="t" x="189" y="609">HAT2</text></g>
<g id="c13"><circle class="H" cx="160" cy="530" r="19.5"/><text class="p" x="160" y="534.5">100%</text><text class="b" x="178" y="491">Rvb1/Rvb2</text><text class="b" x="178" y="508">complex</text></g>

<!-- 14 -->
<g id="n14-BIK1"><circle class="R" cx="357" cy="493" r="15.5"/><text class="t" x="385" y="484">BIK1</text></g>
<g id="n14-PRP39"><circle class="R" cx="321" cy="511" r="15.5"/><text class="t" x="281" y="515">PRP39</text></g>
<g id="n14-PBP2"><use href="#sq" x="394" y="508" class="S"/><text class="t" x="423" y="508">PBP2</text></g>
<g id="n14-FUR1"><circle class="L" cx="418" cy="544" r="15.5"/><text class="t" x="452" y="555">FUR1</text></g>
<g id="n14-SCP160"><use href="#sq" x="302" y="540" class="S"/><text class="t" x="268" y="556">SCP160</text></g>
<g id="n14-NAM8"><use href="#sq" x="303" y="580" class="S"/><text class="t" x="277" y="598">NAM8</text></g>
<g id="n14-UBA4"><use href="#sq" x="324" y="611" class="S"/><text class="t" x="312" y="634">UBA4</text></g>
<g id="n14-PBP1"><use href="#sq" x="369" y="618" class="S"/><text class="t" x="368" y="638">PBP1</text></g>
<g id="c14"><circle class="H" cx="422" cy="592" r="19.5"/><text class="p" x="422" y="596.5">67%</text><text class="b" x="428" y="625">Elongation</text><text class="b" x="428" y="641">factor I</text></g>

<!-- 15 -->
<g id="n15-SPF1"><circle class="R" cx="581" cy="502" r="15.5"/><text class="t" x="554" y="491">SPF1</text></g>
<g id="n15-CNE1"><circle class="R" cx="542" cy="516" r="15.5"/><text class="t" x="508" y="527">CNE1</text></g>
<g id="n15-SBH1"><use href="#sq" x="620" y="516" class="S"/><text class="t" x="650" y="527">SBH1</text></g>
<g id="n15-ERO1"><use href="#sq" x="625" y="560" class="S"/><text class="t" x="639" y="587">ERO1</text></g>
<g id="n15-FMP52"><circle class="L" cx="534" cy="563" r="15.5"/><text class="t" x="515" y="595">FMP52</text></g>
<g id="c15"><circle class="H" cx="580" cy="583" r="19.5"/><text class="p" x="580" y="587.5">100%</text><text class="b" x="580" y="616">Alpha-glucosidase</text><text class="b" x="580" y="632">II complex</text></g>

<!-- 16 -->
<g id="c16-Clathrin"><circle class="H" cx="739" cy="514" r="19.5"/><text class="p" x="739" y="518.5">100%</text><text class="b" x="723" y="546">Clathrin</text></g>
<g id="c16-COPI"><circle class="H" cx="804" cy="514" r="19.5"/><text class="p" x="804" y="518.5">100%</text><text class="b" x="813" y="546">COPI</text></g>
<g id="c16-COPII"><circle class="H" cx="770" cy="562" r="19.5"/><text class="p" x="770" y="566.5">100%</text><text class="b" x="770" y="596">COPII</text></g>

<!-- 17 -->
<g id="n17-NUP159"><use href="#sq" x="928" y="503" class="S"/><text class="t" x="888" y="508">NUP159</text></g>
<g id="n17-NUP1"><use href="#sq" x="973" y="507" class="S"/><text class="t" x="994" y="494">NUP1</text></g>
<g id="n17-NUP188"><use href="#sq" x="903" y="543" class="S"/><text class="t" x="884" y="567">NUP188</text></g>
<g id="n17-NSP1"><use href="#sq" x="993" y="543" class="S"/><text class="t" x="1006" y="568">NSP1</text></g>
<g id="n17-KAP95"><use href="#sq" x="924" y="587" class="S"/><text class="t" x="905" y="609">KAP95</text></g>
<g id="n17-NUP57"><use href="#sq" x="973" y="587" class="S"/><text class="t" x="989" y="609">NUP57</text></g>

<!-- 18 -->
<g id="n18-LEU3"><use href="#sq" x="1152" y="495" class="S"/><text class="t" x="1128" y="487">LEU3</text></g>
<g id="n18-DAL80"><use href="#sq" x="1184" y="481" class="S"/><text class="t" x="1191" y="470">DAL80</text></g>
<g id="n18-RPN4"><use href="#sq" x="1231" y="487" class="S"/><text class="t" x="1262" y="491">RPN4</text></g>
<g id="n18-SIN3"><use href="#sq" x="1262" y="516" class="S"/><text class="t" x="1288" y="509">SIN3</text></g>
<g id="n18-HMS1"><circle class="R" cx="1132" cy="526" r="15.5"/><text class="t" x="1093" y="527">HMS1</text></g>
<g id="n18-FKH2"><use href="#sq" x="1132" y="564" class="S"/><text class="t" x="1101" y="568">FKH2</text></g>
<g id="n18-HMO1"><use href="#sq" x="1151" y="593" class="S"/><text class="t" x="1118" y="608">HMO1</text></g>
<g id="n18-CTHT0040640"><use href="#sq" x="1184" y="608" class="S"/><text class="ti" x="1146" y="630">CTHT0040640</text></g>
<g id="n18-CBF1"><use href="#sq" x="1220" y="607" class="S"/><text class="t" x="1220" y="634">CBF1</text></g>
<g id="c18"><circle class="H" cx="1262" cy="566" r="19.5"/><text class="p" x="1262" y="570.5">100%</text><text class="b" x="1285" y="601">CCAAT-binding</text><text class="b" x="1285" y="617">factor complex</text></g>

<!-- 19 -->
<g id="n19-YGR054W"><circle class="L" cx="88" cy="694" r="15.5"/><text class="t" x="83" y="677">YGR054W</text></g>
<g id="n19-YLR419W"><circle class="R" cx="133" cy="690" r="15.5"/><text class="t" x="171" y="677">YLR419W</text></g>
<g id="n19-TSR1"><circle class="R" cx="168" cy="717" r="15.5"/><text class="t" x="207" y="718">TSR1</text></g>
<g id="n19-OTU2"><use href="#sq" x="64" y="718" class="S"/><text class="t" x="35" y="719">OTU2</text></g>
<g id="c19-EIF2B"><circle class="H" cx="70" cy="762" r="19.5"/><text class="p" x="70" y="766.5">50%</text><text class="b" x="65" y="796">EIF2B</text></g>
<g id="c19-SIT4"><circle class="H" cx="125" cy="787" r="19.5"/><text class="p" x="125" y="791.5">100%</text><text class="b" x="113" y="821">SIT4-SAP190</text><text class="b" x="113" y="837">complex</text></g>
<g id="c19-EIF"><circle class="H" cx="179" cy="760" r="19.5"/><text class="p" x="179" y="764.5">100%</text><text class="b" x="204" y="792">Eukaryotic</text><text class="b" x="204" y="808">translation</text><text class="b" x="204" y="824">factor I complex</text></g>

<!-- 20 -->
<g id="n20-SPT7"><circle class="R" cx="331" cy="715" r="15.5"/><text class="t" x="361" y="707">SPT7</text></g>
<g id="n20-LYS2"><use href="#sq" x="296" y="726" class="S"/><text class="t" x="271" y="717">LYS2</text></g>
<g id="n20-YSP3"><use href="#sq" x="353" y="745" class="S"/><text class="t" x="366" y="772">YSP3</text></g>
<g id="n20-PRC1"><use href="#sq" x="295" y="763" class="S"/><text class="t" x="267" y="778">PRC1</text></g>
<g id="n20-PEP4"><use href="#sq" x="331" y="775" class="S"/><text class="t" x="331" y="802">PEP4</text></g>

<g id="c21"><circle class="H" cx="440" cy="717" r="19.5"/><text class="p" x="440" y="721.5">75%</text><text class="b" x="440" y="757">COP9</text><text class="b" x="440" y="774">Signalosome</text></g>
<g id="c22-CYC8"><circle class="H" cx="533" cy="719" r="19.5"/><text class="p" x="533" y="723.5">100%</text><text class="b" x="532" y="754">CYC8-TUP1</text><text class="b" x="532" y="771">Corepressor</text><text class="b" x="532" y="787">complex</text></g>
<g id="c22-HDA"><circle class="H" cx="598" cy="719" r="19.5"/><text class="p" x="598" y="723.5">100%</text><text class="b" x="601" y="757">HDA</text><text class="b" x="601" y="773">complex</text></g>

<!-- 23 -->
<g id="n23-PCT1"><circle class="L" cx="753" cy="697" r="15.5"/><text class="t" x="723" y="688">PCT1</text></g>
<g id="n23-SCS2"><circle class="L" cx="794" cy="702" r="15.5"/><text class="t" x="828" y="694">SCS2</text></g>
<g id="n23-CBR1"><circle class="L" cx="714" cy="718" r="15.5"/><text class="t" x="678" y="713">CBR1</text></g>
<g id="n23-GVP36"><use href="#sq" x="702" y="754" class="S"/><text class="t" x="675" y="738">GVP36</text></g>
<g id="n23-ERG26"><use href="#sq" x="831" y="733" class="S"/><text class="t" x="848" y="720">ERG26</text></g>
<g id="n23-ERG6"><use href="#sq" x="838" y="770" class="S"/><text class="t" x="857" y="791">ERG6</text></g>
<g id="n23-FAA2"><use href="#sq" x="700" y="784" class="S"/><text class="t" x="674" y="779">FAA2</text></g>
<g id="n23-PSD2"><circle class="R" cx="712" cy="821" r="15.5"/><text class="t" x="678" y="818">PSD2</text></g>
<g id="n23-NCP1"><circle class="R" cx="826" cy="813" r="15.5"/><text class="t" x="861" y="822">NCP1</text></g>
<g id="n23-OLE1"><use href="#sq" x="748" y="838" class="S"/><text class="t" x="728" y="860">OLE1</text></g>
<g id="n23-ERG7"><circle class="R" cx="790" cy="840" r="15.5"/><text class="t" x="824" y="856">ERG7</text></g>

<!-- 24-27 -->
<g id="n24-SEC23"><use href="#sq" x="903" y="729" class="S"/><text class="t" x="933" y="725">SEC23</text></g>
<g id="n24-SFB3"><use href="#sq" x="952" y="748" class="S"/><text class="t" x="952" y="774">SFB3</text></g>
<g id="n24-ENT3"><use href="#sq" x="913" y="770" class="S"/><text class="t" x="913" y="796">ENT3</text></g>
<g id="c25"><circle class="H" cx="1019" cy="728" r="19.5"/><text class="p" x="1019" y="732.5">86%</text><text class="b" x="1019" y="766">Exosome</text><text class="b" x="1019" y="783">complex</text></g>
<g id="n26-SGE1"><use href="#sq" x="1118" y="722" class="S"/><text class="t" x="1100" y="708">SGE1</text></g>
<g id="n26-UBC13"><use href="#sq" x="1163" y="722" class="S"/><text class="t" x="1174" y="708">UBC13</text></g>
<g id="n26-HHO1"><circle class="R" cx="1163" cy="763" r="15.5"/><text class="t" x="1178" y="792">HHO1</text></g>
<g id="c26"><circle class="H" cx="1118" cy="767" r="19.5"/><text class="p" x="1118" y="771.5">75%</text><text class="b" x="1118" y="803">Nucleosome</text><text class="b" x="1118" y="819">complex</text></g>
<g id="n27-VIP1"><use href="#sq" x="1275" y="721" class="S"/><text class="t" x="1243" y="722">VIP1</text></g>
<g id="n27-PTC1"><use href="#sq" x="1248" y="747" class="S"/><text class="t" x="1238" y="774">PTC1</text></g>
<g id="n27-CKI1"><use href="#sq" x="1275" y="773" class="S"/><text class="t" x="1274" y="799">CKI1</text></g>
<g id="n27-KCS1"><circle class="R" cx="1302" cy="747" r="15.5"/><text class="t" x="1311" y="775">KCS1</text></g>

<!-- 28 -->
<g id="n28-CTF4"><circle class="R" cx="99" cy="892" r="15.5"/><text class="t" x="71" y="877">CTF4</text></g>
<g id="n28-RAD1"><use href="#sq" x="66" y="915" class="S"/><text class="t" x="57" y="907">RAD1</text></g>
<g id="n28-RPP0"><use href="#sq" x="138" y="890" class="S"/><text class="t" x="166" y="887">RPP0</text></g>
<g id="n28-HMS1"><use href="#sq" x="176" y="902" class="S"/><text class="t" x="206" y="909">HMS1</text></g>
<g id="n28-NUT1"><use href="#sq" x="188" y="932" class="S"/><text class="t" x="214" y="939">NUT1</text></g>
<g id="n28-SRP68"><circle class="L" cx="203" cy="967" r="15.5"/><text class="t" x="220" y="998">SRP68</text></g>
<g id="n28-RPD3"><use href="#sq" x="53" y="943" class="S"/><text class="t" x="26" y="947">RPD3</text></g>
<g id="n28-UBR2"><use href="#sq" x="54" y="978" class="S"/><text class="t" x="30" y="995">UBR2</text></g>
<g id="c28-MCM"><circle class="H" cx="72" cy="1019" r="19.5"/><text class="p" x="72" y="1023.5">67%</text><text class="b" x="70" y="1051">Minichromosome</text><text class="b" x="70" y="1066">maintenance</text><text class="b" x="70" y="1080">complex</text></g>
<g id="c28-RFA"><circle class="H" cx="168" cy="1022" r="19.5"/><text class="p" x="168" y="1026.5">50%</text><text class="b" x="179" y="1055">DNA replication</text><text class="b" x="179" y="1069">Factor A complex</text></g>

<!-- 29 -->
<g id="n29-SUB2"><use href="#sq" x="352" y="902" class="S"/><text class="t" x="331" y="895">SUB2</text></g>
<g id="n29-GSP2"><use href="#sq" x="390" y="912" class="S"/><text class="t" x="421" y="919">GSP2</text></g>
<g id="n29-CSE1"><use href="#sq" x="318" y="915" class="S"/><text class="t" x="286" y="923">CSE1</text></g>
<g id="n29-TIF1"><use href="#sq" x="301" y="944" class="S"/><text class="t" x="277" y="959">TIF1</text></g>
<g id="n29-SCS2"><circle class="L" cx="415" cy="947" r="15.5"/><text class="t" x="436" y="973">SCS2</text></g>
<g id="n29-GLE2"><use href="#sq" x="300" y="980" class="S"/><text class="t" x="286" y="1003">GLE2</text></g>
<g id="n29-MLP1"><use href="#sq" x="405" y="988" class="S"/><text class="t" x="417" y="1011">MLP1</text></g>
<g id="n29-DBP5"><use href="#sq" x="331" y="1011" class="S"/><text class="t" x="313" y="1038">DBP5</text></g>
<g id="n29-MTR10"><circle class="R" cx="378" cy="1015" r="15.5"/><text class="t" x="384" y="1045">MTR10</text></g>

<!-- 30-35 -->
<g id="n30-COQ6"><circle class="L" cx="524" cy="906" r="15.5"/><text class="t" x="500" y="933">COQ6</text></g>
<g id="n30-COQ8"><use href="#sq" x="570" y="933" class="S"/><text class="t" x="571" y="961">COQ8</text></g>
<g id="n30-COQ3"><use href="#sq" x="528" y="957" class="S"/><text class="t" x="529" y="983">COQ3</text></g>
<g id="n31-MAM33"><circle class="L" cx="663" cy="913" r="15.5"/><text class="t" x="623" y="932">MAM33</text></g>
<g id="n31-KAP114"><use href="#sq" x="707" y="906" class="S"/><text class="t" x="746" y="900">KAP114</text></g>
<g id="n31-SRP1"><use href="#sq" x="742" y="919" class="S"/><text class="t" x="769" y="934">SRP1</text></g>
<g id="n31-NAP1"><circle class="L" cx="649" cy="955" r="15.5"/><text class="t" x="622" y="977">NAP1</text></g>
<g id="n31-KAP104"><circle class="L" cx="668" cy="992" r="15.5"/><text class="t" x="637" y="1018">KAP104</text></g>
<g id="n31-CRM1"><circle class="R" cx="754" cy="955" r="15.5"/><text class="t" x="776" y="982">CRM1</text></g>
<g id="n31-YRB2"><use href="#sq" x="739" y="992" class="S"/><text class="t" x="738" y="1018">YRB2</text></g>
<g id="n31-ANB1"><use href="#sq" x="703" y="1007" class="S"/><text class="t" x="707" y="1037">ANB1</text></g>
<g id="n32-TPM1"><circle class="L" cx="853" cy="913" r="15.5"/><text class="t" x="817" y="921">TPM1</text></g>
<g id="n32-MYO5"><use href="#sq" x="914" y="928" class="S"/><text class="t" x="918" y="954">MYO5</text></g>
<g id="c32"><circle class="H" cx="868" cy="966" r="19.5"/><text class="p" x="868" y="970.5">100%</text><text class="b" x="867" y="999">ARP2/3</text><text class="b" x="867" y="1015">complex</text></g>
<g id="n33-RPS0B"><use href="#sq" x="975" y="924" class="S"/><text class="t" x="1011" y="925">RPS0B</text></g>
<g id="n33-RPS28A"><use href="#sq" x="1016" y="944" class="S"/><text class="t" x="1033" y="968">RPS28A</text></g>
<g id="n33-RPS10A"><use href="#sq" x="978" y="968" class="S"/><text class="t" x="988" y="993">RPS10A</text></g>
<g id="n34-UGP1"><circle class="L" cx="1131" cy="908" r="15.5"/><text class="t" x="1093" y="923">UGP1</text></g>
<g id="n34-FMP12"><circle class="R" cx="1176" cy="907" r="15.5"/><text class="t" x="1222" y="923">FMP12</text></g>
<g id="n34-PSK2"><use href="#sq" x="1113" y="948" class="S"/><text class="t" x="1095" y="973">PSK2</text></g>
<g id="n34-YPL230W"><use href="#sq" x="1205" y="947" class="S"/><text class="t" x="1221" y="983">YPL230W</text></g>
<g id="c34"><circle class="H" cx="1159" cy="976" r="19.5"/><text class="p" x="1159" y="980.5">100%</text><text class="b" x="1159" y="1010">Alpha-trehalose-</text><text class="b" x="1159" y="1026">phsophate</text><text class="b" x="1159" y="1042">synthase complex</text></g>
<g id="c35"><circle class="H" cx="1288" cy="933" r="19.5"/><text class="p" x="1288" y="937.5">75%</text><text class="b" x="1287" y="972">GID</text><text class="b" x="1287" y="989">complex</text></g>

<!-- 36-39 -->
<g id="n36-MYO2"><use href="#sq" x="77" y="1125" class="S"/><text class="t" x="43" y="1136">MYO2</text></g>
<g id="n36-CUE5"><use href="#sq" x="117" y="1125" class="S"/><text class="t" x="143" y="1119">CUE5</text></g>
<g id="n36-RVS161"><use href="#sq" x="152" y="1150" class="S"/><text class="t" x="180" y="1144">RVS161</text></g>
<g id="n36-RSP5"><use href="#sq" x="52" y="1162" class="S"/><text class="t" x="28" y="1180">RSP5</text></g>
<g id="n36-CAP"><use href="#sq" x="52" y="1198" class="S"/><text class="t" x="40" y="1224">CAP</text></g>
<g id="c36-Tub"><circle class="H" cx="97" cy="1227" r="19.5"/><text class="p" x="97" y="1231.5">67%</text><text class="b" x="98" y="1261">Tubulin</text></g>
<g id="c36-Sep"><circle class="H" cx="152" cy="1200" r="19.5"/><text class="p" x="152" y="1204.5">100%</text><text class="b" x="158" y="1237">Septin</text><text class="b" x="158" y="1253">complex</text></g>
<g id="n37-VID27"><circle class="R" cx="250" cy="1133" r="15.5"/><text class="t" x="233" y="1161">VID27</text></g>
<g id="n37-PLP2"><circle class="L" cx="319" cy="1132" r="15.5"/><text class="t" x="325" y="1161">PLP2</text></g>
<g id="c37"><circle class="H" cx="287" cy="1181" r="19.5"/><text class="p" x="287" y="1185.5">100%</text><text class="b" x="287" y="1217">CCT</text><text class="b" x="287" y="1233">Chaperonin</text></g>
<g id="n38-PMA2"><circle class="L" cx="413" cy="1117" r="15.5"/><text class="t" x="411" y="1099">PMA2</text></g>
<g id="n38-SEY1"><circle class="L" cx="455" cy="1108" r="15.5"/><text class="t" x="487" y="1101">SEY1</text></g>
<g id="n38-ARP1"><circle class="L" cx="497" cy="1127" r="15.5"/><text class="t" x="525" y="1152">ARP1</text></g>
<g id="n38-ERR2"><circle class="L" cx="508" cy="1178" r="15.5"/><text class="t" x="525" y="1208">ERR2</text></g>
<g id="n38-MLC1"><use href="#sq" x="482" y="1207" class="S"/><text class="t" x="489" y="1233">MLC1</text></g>
<g id="n38-ACT1"><circle class="L" cx="437" cy="1215" r="15.5"/><text class="t" x="443" y="1246">ACT1</text></g>
<g id="n38-SRV2"><use href="#sq" x="400" y="1156" class="S"/><text class="t" x="380" y="1175">SRV2</text></g>
<g id="n38-MRH1"><use href="#sq" x="413" y="1192" class="S"/><text class="t" x="397" y="1212">MRH1</text></g>
<g id="n39-TRS120"><use href="#sq" x="584" y="1145" class="S"/><text class="t" x="577" y="1171">TRS120</text></g>
<g id="n39-TRS130"><use href="#sq" x="628" y="1145" class="S"/><text class="t" x="632" y="1171">TRS130</text></g>

<!-- 40 -->
<g id="n40-COX5A"><use href="#sq" x="740" y="1123" class="S"/><text class="t" x="698" y="1133">COX5A</text></g>
<g id="n40-POR1"><circle class="L" cx="773" cy="1112" r="15.5"/><text class="t" x="807" y="1096">POR1</text></g>
<g id="n40-DNM1"><circle class="L" cx="815" cy="1118" r="15.5"/><text class="t" x="855" y="1124">DNM1</text></g>
<g id="n40-ADK1"><circle class="L" cx="839" cy="1155" r="15.5"/><text class="t" x="873" y="1168">ADK1</text></g>
<g id="n40-ARC1"><use href="#sq" x="719" y="1155" class="S"/><text class="t" x="689" y="1176">ARC1</text></g>
<g id="n40-PFK2"><circle class="L" cx="843" cy="1194" r="15.5"/><text class="t" x="859" y="1225">PFK2</text></g>
<g id="n40-QCR2"><circle class="R" cx="717" cy="1194" r="15.5"/><text class="t" x="694" y="1222">QCR2</text></g>
<g id="c40-Vac"><circle class="H" cx="748" cy="1232" r="19.5"/><text class="p" x="748" y="1236.5">50%</text><text class="b" x="740" y="1269">Vacuolar</text><text class="b" x="740" y="1285">ATP synthase</text></g>
<g id="c40-F1F0"><circle class="H" cx="809" cy="1237" r="19.5"/><text class="p" x="809" y="1241.5">100%</text><text class="b" x="820" y="1270">F1F0 ATP</text><text class="b" x="820" y="1286">synthase</text></g>

<!-- 41 -->
<g id="n41-RIM20"><use href="#sq" x="1008" y="1118" class="S"/><text class="t" x="976" y="1109">RIM20</text></g>
<g id="n41-RIM101"><use href="#sq" x="976" y="1133" class="S"/><text class="t" x="938" y="1142">RIM101</text></g>
<g id="n41-ATP7"><use href="#sq" x="1056" y="1124" class="S"/><text class="t" x="1078" y="1113">ATP7</text></g>
<g id="n41-MGM1"><circle class="L" cx="1087" cy="1143" r="15.5"/><text class="t" x="1120" y="1162">MGM1</text></g>
<g id="n41-SNC2"><use href="#sq" x="956" y="1163" class="S"/><text class="t" x="928" y="1183">SNC2</text></g>
<g id="n41-DNM"><circle class="L" cx="1090" cy="1187" r="15.5"/><text class="t" x="1118" y="1212">DNM</text></g>
<g id="n41-YPT6"><use href="#sq" x="956" y="1202" class="S"/><text class="t" x="936" y="1222">YPT6</text></g>
<g id="n41-SNF7"><circle class="L" cx="1076" cy="1228" r="15.5"/><text class="t" x="1099" y="1255">SNF7</text></g>
<g id="n41-VPS29"><use href="#sq" x="976" y="1230" class="S"/><text class="t" x="965" y="1259">VPS29</text></g>
<g id="n41-SNX4"><use href="#sq" x="1008" y="1246" class="S"/><text class="t" x="995" y="1271">SNX4</text></g>
<g id="n41-CEG1"><use href="#sq" x="1044" y="1246" class="S"/><text class="t" x="1038" y="1269">CEG1</text></g>

<!-- 42 -->
<g id="c42-FAS"><circle class="H" cx="1244" cy="1135" r="19.5"/><text class="p" x="1244" y="1139.5">100%</text><text class="b" x="1293" y="1116">Fatty acid</text><text class="b" x="1293" y="1132">synthase</text></g>
<g id="c42-PDH"><circle class="H" cx="1203" cy="1192" r="19.5"/><text class="p" x="1203" y="1196.5">100%</text><text class="b" x="1193" y="1231">Pyruvate</text><text class="b" x="1193" y="1247">dehydrogenase</text><text class="b" x="1193" y="1263">complex</text></g>
<g id="c42-OGDH"><circle class="H" cx="1286" cy="1192" r="19.5"/><text class="p" x="1286" y="1196.5">100%</text><text class="b" x="1293" y="1231">Oxoglutarate</text><text class="b" x="1293" y="1247">dehydrogenase</text><text class="b" x="1293" y="1263">complex</text></g>

<!-- 43-48 -->
<g id="n43-PRP21"><use href="#sq" x="49" y="1360" class="S"/><text class="t" x="49" y="1388">PRP21</text></g>
<g id="n43-PRP24"><use href="#sq" x="101" y="1360" class="S"/><text class="t" x="101" y="1390">PRP24</text></g>
<g id="c44"><circle class="H" cx="196" cy="1358" r="19.5"/><text class="p" x="196" y="1362.5">100%</text><text class="b" x="198" y="1394">Cleavage factor I</text></g>
<g id="c45"><circle class="H" cx="312" cy="1358" r="19.5"/><text class="p" x="312" y="1362.5">100%</text><text class="b" x="312" y="1394">SGT2-YDJ1</text></g>
<g id="c46"><circle class="H" cx="401" cy="1358" r="19.5"/><text class="p" x="401" y="1362.5">100%</text><text class="b" x="401" y="1394">Protein kinase</text><text class="b" x="401" y="1410">CK2 complex</text></g>
<g id="n47-RTT103"><circle class="R" cx="480" cy="1359" r="15.5"/><text class="t" x="480" y="1390">RTT103</text></g>
<g id="n47-HRB1"><use href="#sq" x="533" y="1359" class="S"/><text class="t" x="533" y="1386">HRB1</text></g>
<g id="c48"><circle class="H" cx="622" cy="1358" r="19.5"/><text class="p" x="622" y="1362.5">100%</text><text class="b" x="622" y="1394">ATP citrate-lyase</text><text class="b" x="622" y="1410">complex</text></g>
</g>

<g id="legend">
<rect x="705" y="1306" width="591" height="130" rx="14" fill="none" stroke="#111" stroke-width="2"/>
<circle class="H" cx="739" cy="1334" r="19"/><text class="p" x="739" y="1338">%</text>
<text class="lg" x="762" y="1326">Heteromultimeric complex</text>
<text class="lgi" x="762" y="1341">(percentage of known</text>
<text class="lgi" x="762" y="1355">complex recovered)</text>
<circle class="L" cx="740" cy="1373" r="15"/>
<text class="lg" x="762" y="1378">Homomultimeric complex</text>
<use href="#sq" x="737" y="1405" class="S"/>
<text class="lg" x="762" y="1401">Protein of unknown</text>
<text class="lg" x="762" y="1417">stocihiometry</text>
<line x1="926" y1="1328" x2="978" y2="1328" class="ge"/>
<line x1="926" y1="1349" x2="978" y2="1349" class="r1"/>
<line x1="926" y1="1369" x2="978" y2="1369" class="r2"/>
<line x1="926" y1="1393" x2="978" y2="1393" class="r4"/>
<text class="lg" x="983" y="1333">Predicted interaction</text>
<text class="lg" x="983" y="1353">1 crosslink</text>
<text class="lg" x="983" y="1374">2 crosslinks</text>
<text class="lg" x="983" y="1398">4 crosslinks</text>
<circle class="R" cx="1121" cy="1333" r="15"/>
<text class="lg" x="1151" y="1323">Homomultimeric</text>
<text class="lg" x="1151" y="1339">complex predicted by</text>
<text class="lg" x="1151" y="1355">crosslinks</text>
<ellipse class="lp" cx="1112" cy="1369" rx="11" ry="12"/>
<circle class="H" cx="1128" cy="1388" r="20"/>
<text class="lg" x="1151" y="1383">Interprotein cross-links</text>
<text class="lg" x="1151" y="1399">within complex</text>
</g>
</svg>
